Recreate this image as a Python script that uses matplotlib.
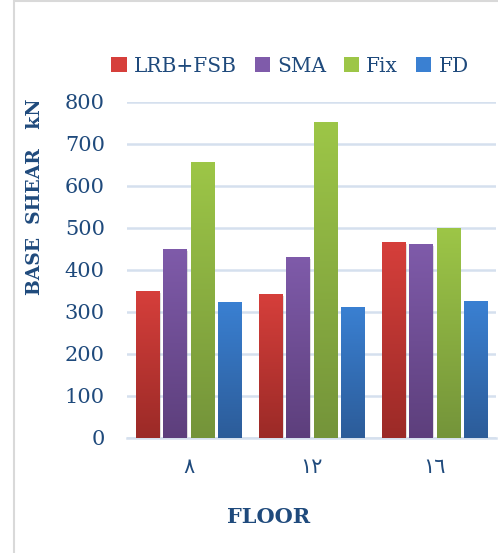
import numpy as np
import matplotlib.pyplot as plt
from matplotlib.patches import Rectangle
from matplotlib.colors import LinearSegmentedColormap

# Base shear per floor count for each system
floors = ["\u0668", "\u0661\u0662", "\u0661\u0666"]
series = ["LRB+FSB", "SMA", "Fix", "FD"]
lrb_fsb = [350, 343, 467]
sma = [450, 431, 462]
fix = [657, 752, 500]
fd = [324, 312, 326]
values = [lrb_fsb, sma, fix, fd]

# (top, bottom) colours for the vertical gradient
shades = [("#D63F3B", "#9B2A27"),
          ("#7F5BAA", "#5D3F7C"),
          ("#9DC647", "#74943A"),
          ("#3A80D2", "#2C5C99")]

text_color = "#1F4A7C"
grid_color = "#D5E0EE"

fig = plt.figure(figsize=(4.98, 5.53), dpi=100)
ax = fig.add_axes([0.255, 0.208, 0.741, 0.6076])

# outer chart frame
fig.patches.append(Rectangle((14 / 498, -0.01), 1.0, 1.0075, transform=fig.transFigure,
                             fill=False, edgecolor="#D9D9D9", linewidth=1.5))

x = np.arange(len(floors))
width = 0.187
step = 0.22
grad = np.linspace(0, 1, 256).reshape(-1, 1)

for i, (name, vals, (top, bottom)) in enumerate(zip(series, values, shades)):
    pos = x + (i - 1.5) * step
    cmap = LinearSegmentedColormap.from_list(name, [bottom, top])
    bars = ax.bar(pos, vals, width, color=top, label=name, zorder=3)
    for b, v in zip(bars, vals):
        # soft drop shadow
        ax.add_patch(Rectangle((b.get_x() + 0.012, -4), width, v, facecolor="#7F7F7F",
                               alpha=0.25, linewidth=0, zorder=2))
        img = ax.imshow(grad, cmap=cmap, origin="lower", aspect="auto",
                        extent=(b.get_x(), b.get_x() + width, 0, v), zorder=4)
        img.set_clip_path(b)

ax.set_xlim(-0.5, 2.5)
ax.set_ylim(0, 800)
ax.set_yticks(range(0, 801, 100))
ax.set_xticks(x)
ax.set_xticklabels(floors, family=["DejaVu Sans"], fontsize=15, color=text_color)
ax.tick_params(axis="x", length=0, pad=14)
ax.tick_params(axis="y", length=0, pad=16, labelsize=15, labelcolor=text_color)
for lab in ax.get_yticklabels():
    lab.set_family("DejaVu Serif")

ax.yaxis.grid(True, color=grid_color, linewidth=1.8, zorder=0)
ax.set_axisbelow(True)
for s in ["top", "right", "left"]:
    ax.spines[s].set_visible(False)
ax.spines["bottom"].set_color(grid_color)
ax.spines["bottom"].set_linewidth(1.8)

fig.text(35 / 498, 1 - 197 / 553, "BASE  SHEAR   kN", rotation=90, ha="center", va="center",
         family="DejaVu Serif", fontweight="bold", fontsize=13.5, color=text_color)
fig.text(269 / 498, 1 - 517 / 553, "FLOOR", ha="center", va="center",
         family="DejaVu Serif", fontweight="bold", fontsize=15, color=text_color)

handles = [Rectangle((0, 0), 1, 1, facecolor=c[0]) for c in shades]
fig.legend(handles, series, loc="center", bbox_to_anchor=(290 / 498, 1 - 66 / 553),
           ncol=4, frameon=False, handlelength=0.75, handleheight=0.75, handletextpad=0.35,
           columnspacing=0.9, prop={"family": "DejaVu Serif", "size": 14.5},
           labelcolor=text_color)

fig.savefig("out.png", dpi=100)
